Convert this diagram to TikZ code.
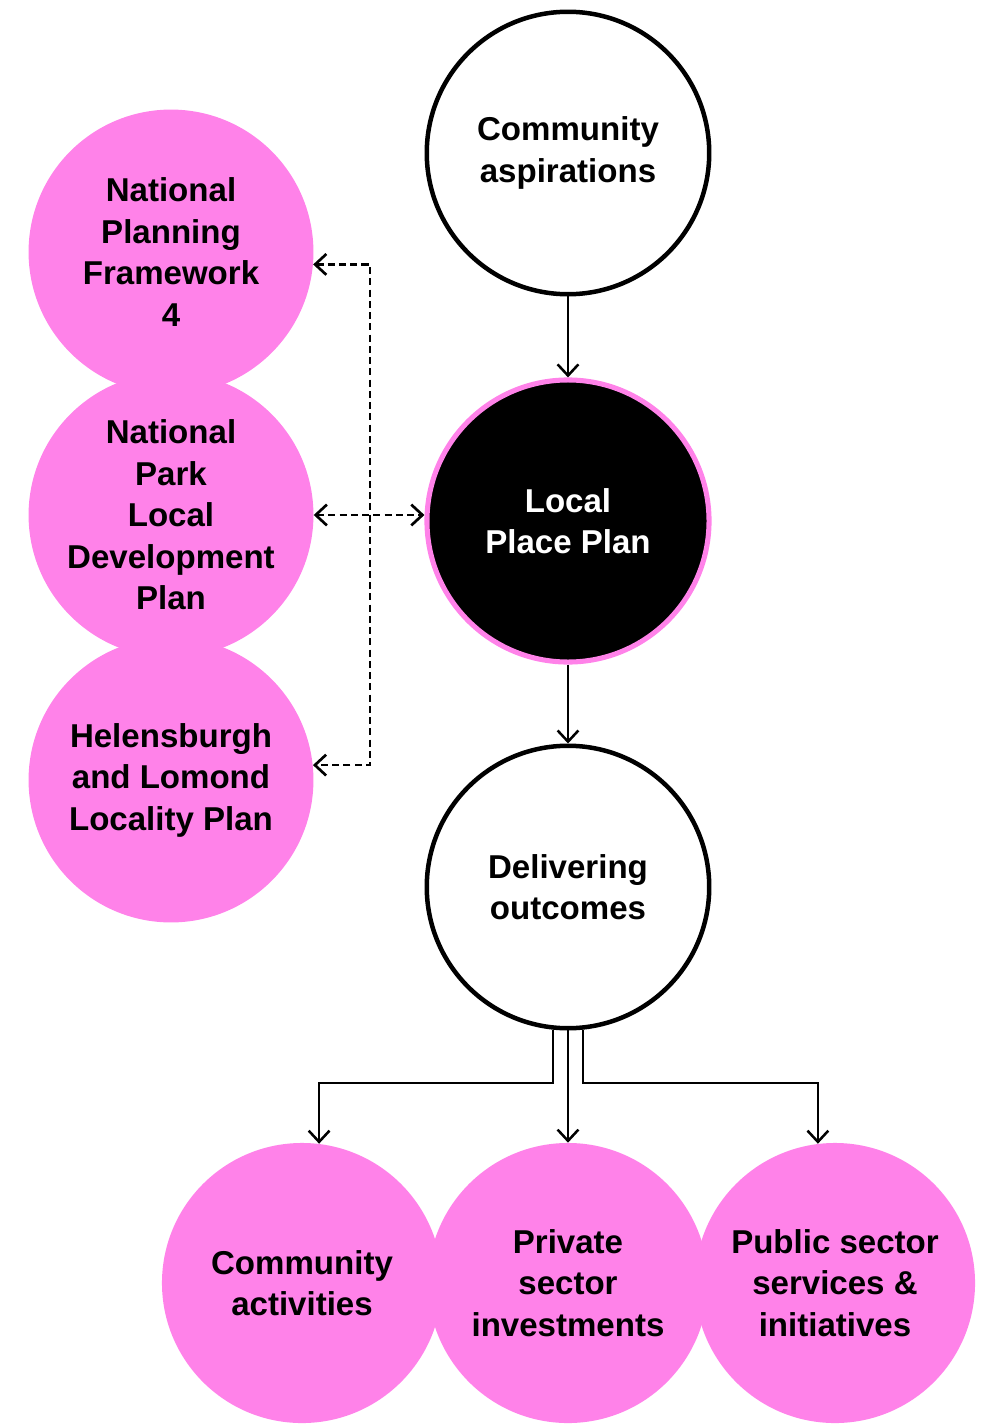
\documentclass[tikz,border=0pt]{standalone}
\usepackage{fontspec}
\setmainfont{Liberation Sans}
\usetikzlibrary{arrows.meta}
\definecolor{planpink}{RGB}{255,130,233}

\begin{document}
\begin{tikzpicture}[x=0.025cm,y=-0.025cm,
    >={Straight Barb[length=0.28cm,width=0.52cm]},
    ball/.style={circle, align=center, inner sep=0pt,
      font=\bfseries\fontsize{23.5}{29.5}\selectfont},
    whiteball/.style={ball, draw, line width=3.2pt, minimum size=7.06cm},
    darkball/.style={ball, fill=black, draw=planpink, line width=3.6pt,
      minimum size=7.05cm, text=white},
    pinkball/.style={ball, fill=planpink, minimum size=7.12cm},
    lowball/.style={ball, fill=planpink, minimum size=7cm}]

        \useasboundingbox (0,0) rectangle (982,1425);

        \begin{scope}[every node/.style={pinkball}]
          \node (1) at (171,252) {National\\Planning\\Framework\\4};
          \node (3) at (171,780) {Helensburgh\\and Lomond\\Locality Plan};
          \node (2) at (171,515) {National\\Park\\Local\\Development\\Plan};
        \end{scope}

        \node[whiteball] (5) at (568,153) {Community\\aspirations};
        \node[darkball]  (4) at (568,521) {Local\\Place Plan};
        \node[whiteball] (6) at (568,887) {Delivering\\outcomes};
        \coordinate (h) at (0,1083);

        \begin{scope}[every node/.style={lowball}]
          \node (7) at (302,1283) {Community\\activities};
          \node (9) at (835,1283) {Public sector\\services \&\\initiatives};
          \node (8) at (568,1283) {Private\\sector\\investments};
        \end{scope}

        \begin{scope}[line width=1.8pt]
          \begin{scope}[dash pattern=on 5pt off 3pt, line width=1.9pt]
            \draw[<->] (1.-5) -| (370,515) |- (3.6);
            \path (2.east) edge[<->, draw] (2.east -| 4.west);
          \end{scope}

          \begin{scope}[every edge/.style={draw, ->}]
            \path (5) edge (4);
            \path (4) edge (6);
            \path (6) edge (8);
          \end{scope}
          \draw[->] (6.-96) |- (7.83 |- h) -- (7.83);
          \draw[->] (6.-84) |- (9.97 |- h) -- (9.97);
        \end{scope}

      \end{tikzpicture}
\end{document}
